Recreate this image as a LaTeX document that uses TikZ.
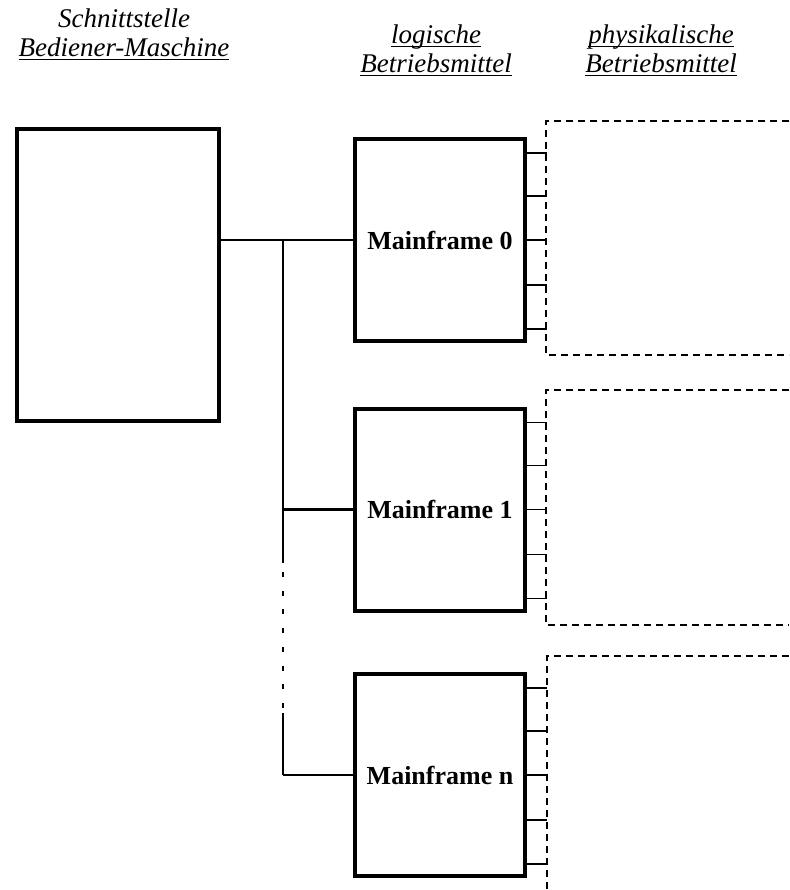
\documentclass[tikz,border=0pt]{standalone}
\usepackage{fontspec}
\setmainfont{Liberation Serif}
\usetikzlibrary{calc}

\newcommand{\hdul}[1]{\setbox0\hbox{#1}\rlap{\rule[-3.5pt]{\wd0}{1.4pt}}\box0}

\begin{document}
\begin{tikzpicture}[x=1pt, y=-1pt,
  head/.style={align=center, anchor=base, font=\fontsize{27}{29}\selectfont\itshape},
  hmibox/.style={draw, line width=4pt, minimum width=202pt, minimum height=292pt},
  mfbox/.style={draw, line width=4pt, minimum width=170pt, minimum height=202pt,
    font=\fontsize{26}{28}\selectfont\bfseries},
  wire/.style={line width=2.7pt},
  trunkline/.style={line width=2.2pt},
  port/.style={line width=1.3pt},
  periph/.style={line width=1.3pt, dash pattern=on 7pt off 5pt}]
\useasboundingbox (0,0) rectangle (789,890);

% headings
\node [head] (h_hmi) at (124,57) {Schnittstelle\\\hdul{Bediener-Maschine}};
\node [head] (h_log) at (436,73) {\hdul{logische}\\\hdul{Betriebsmittel}};
\node [head] (h_phy) at (661,73) {\hdul{physikalische}\\\hdul{Betriebsmittel}};

% boxes
\node [hmibox] (hmi) at (118,275) {};
\node [mfbox] (mf0) at (440,240) {Mainframe 0};
\node [mfbox] (mf1) at (440,509.5) {Mainframe 1};
\node [mfbox] (mfn) at (440,775) {Mainframe n};

% bus
\coordinate (trunk) at (283,239);
\coordinate (gaptop) at (283,563);
\coordinate (gapbot) at (283,713);
\draw [wire] (hmi.east |- mf0.west) -- (mf0.west);
\draw [trunkline] (trunk) -- (gaptop);
\draw [trunkline, dash pattern=on 5pt off 13.7pt] (283,572) -- (283,712);
\draw [trunkline] (gapbot) -- (trunk |- mfn.west);
\draw [wire] (trunk |- mf1.west) -- (mf1.west);
\draw [wire] (trunk |- mfn.west) -- (mfn.west);

% peripherals
\draw [periph] (789,121) -- (546,121) -- (546,355) -- (789,355);
\draw [periph] (789,390) -- (546,390) -- (546,625) -- (789,625);
\draw [periph] (789,656) -- (547,656) -- (547,890);
\foreach \m in {mf0,mf1,mfn}
  \foreach \dy in {-87,-44,0,45,89}
    \draw [port] ($(\m.east)+(0,\dy)$) -- ++(20,0);
\end{tikzpicture}
\end{document}
